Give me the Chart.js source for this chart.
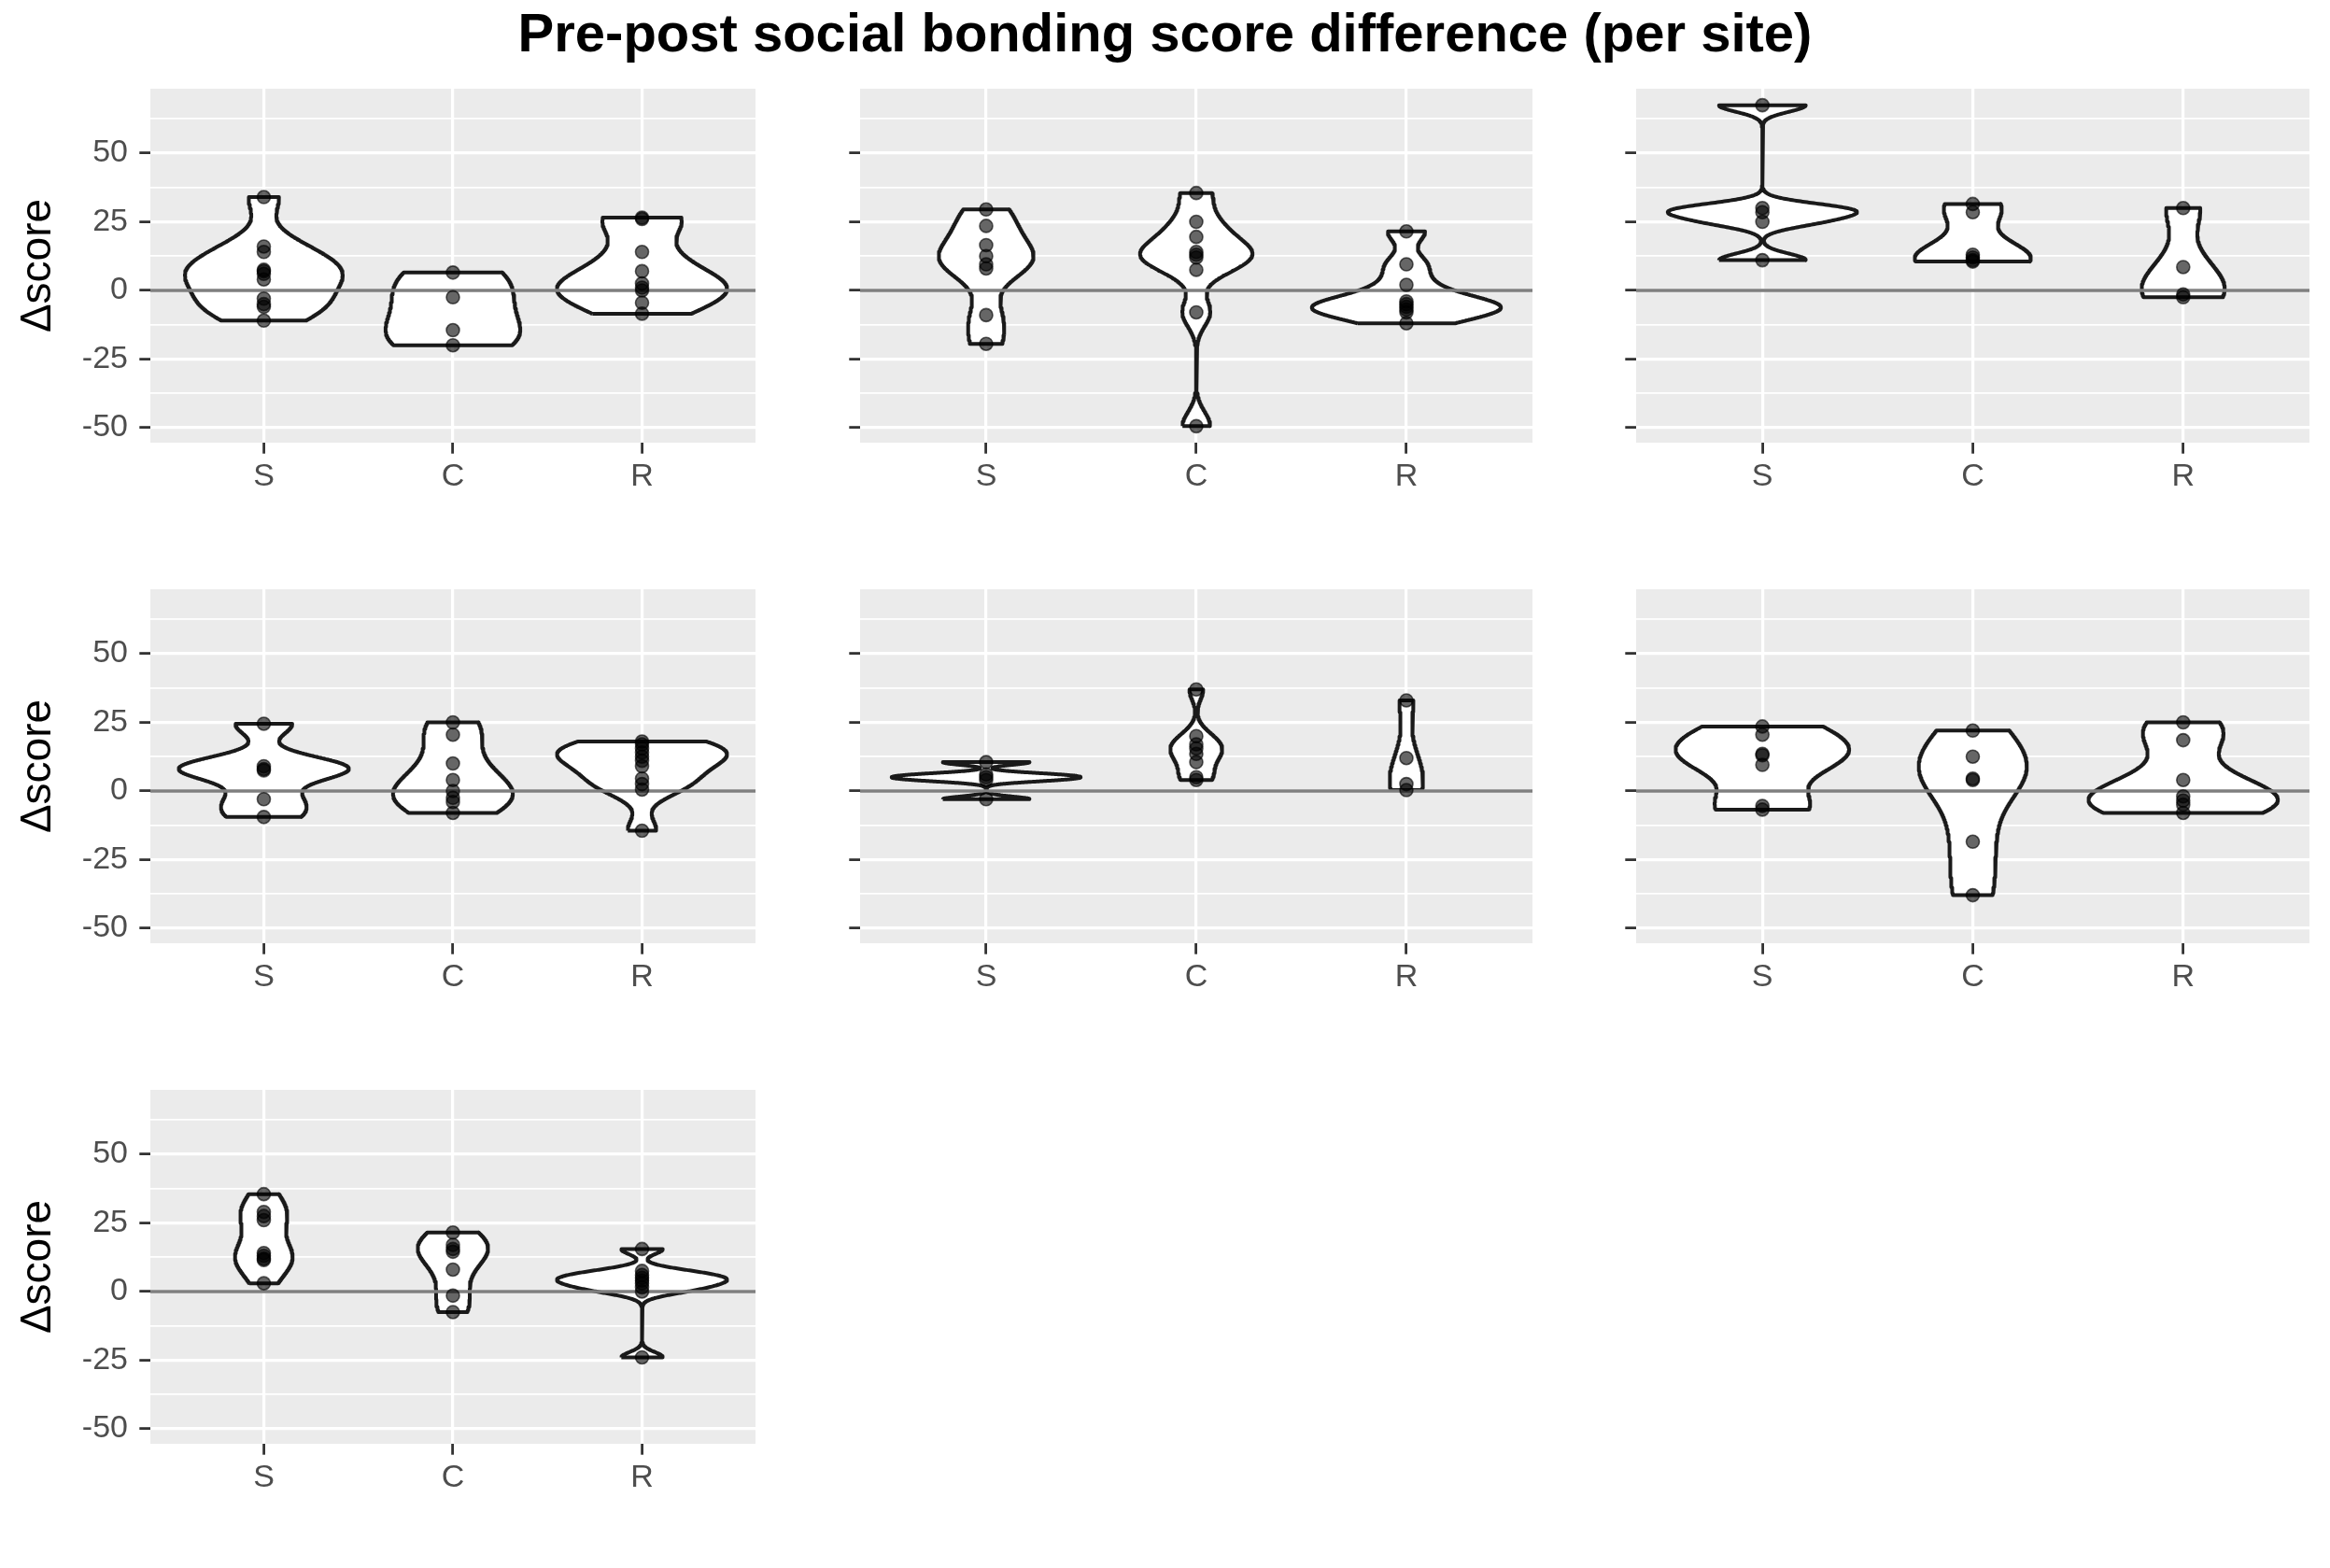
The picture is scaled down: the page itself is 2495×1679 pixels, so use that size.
<!DOCTYPE html>
<html><head><meta charset="utf-8">
<script src="https://cdn.jsdelivr.net/npm/chart.js@4.4.0/dist/chart.umd.min.js"></script>
<style>
html,body{margin:0;padding:0;background:#fff;width:2495px;height:1679px;overflow:hidden;font-family:"Liberation Sans",Arial,sans-serif;}
#title{position:absolute;left:0;width:2495px;top:6px;text-align:center;font-weight:bold;font-size:58px;line-height:58px;color:#000;white-space:nowrap;}
canvas{position:absolute;}
</style></head><body>
<div id="title">Pre-post social bonding score difference (per site)</div>
<script>
// ---- data ----
const categories = ['S', 'C', 'R'];
const yTickValues = [-50, -25, 0, 25, 50];
const yMinorValues = [-37.5, -12.5, 12.5, 37.5, 62.5];
const yTitle = 'Δscore';

const site1S = [34, 16, 14, 7.5, 7, 6, 4, -3, -5, -6, -11];
const site1C = [6.5, -2.5, -14.5, -20];
const site1R = [26.5, 26, 14, 7, 2.5, 1, 0, -4.5, -8.5];

const site2S = [29.5, 23.5, 16.5, 12.5, 9.5, 8, -9, -19.5];
const site2C = [35.5, 25, 19.5, 14, 13, 12, 7.5, -8, -49.5];
const site2R = [21.5, 9.5, 2, -4, -5, -6, -7, -8, -12];

const site3S = [67.5, 30, 28.5, 25, 11];
const site3C = [31.5, 28.5, 13, 12, 11, 10.5];
const site3R = [30, 8.5, -1.5, -2.5];

const site4S = [24.5, 9, 8, 7.5, -3, -9.5];
const site4C = [25, 20.5, 10, 4, 0, -2.5, -4, -8];
const site4R = [18, 17, 15.5, 14, 12.5, 11, 9, 4.5, 2.5, 0.5, -14.5];

const site5S = [10.5, 6, 5, 4, -3];
const site5C = [37, 20, 17, 15.5, 13.5, 10.5, 5, 4];
const site5R = [33, 12, 2.5, 0.3];

const site6S = [23.5, 20.5, 13.5, 13, 9.5, -5.5, -6.8];
const site6C = [22, 12.5, 4.5, 4, -18.5, -38];
const site6R = [25, 18.5, 4, -2, -3.5, -5, -8];

const site7S = [35.5, 29, 27.5, 26, 14, 13, 12, 11.5, 3];
const site7C = [21.5, 17, 15.5, 14.5, 8, -1.5, -7.5];
const site7R = [15.5, 7.5, 6, 5, 4, 3, 1.5, 0, -24];

const sites = [
  [site1S, site1C, site1R], [site2S, site2C, site2R], [site3S, site3C, site3R],
  [site4S, site4C, site4R], [site5S, site5C, site5R], [site6S, site6C, site6R],
  [site7S, site7C, site7R]
];

// ---- layout ----
const colLeft = [161, 921, 1752];
const colRight = [809, 1641, 2473];
const rowTop = [95, 631, 1167];
const panelH = 379;
const xAxisH = 72;
const FONT = '"Liberation Sans", Arial, sans-serif';
Chart.defaults.font.family = FONT;

// ---- violin density (Gaussian KDE, nrd0 bandwidth, trimmed) ----
function q7(s, p) { const h = (s.length - 1) * p; const lo = Math.floor(h); const hi = Math.min(lo + 1, s.length - 1); return s[lo] + (h - lo) * (s[hi] - s[lo]); }
function bwNrd0(x) {
  const n = x.length; const m = x.reduce((a, b) => a + b, 0) / n;
  const sd = Math.sqrt(x.reduce((a, b) => a + (b - m) * (b - m), 0) / (n - 1));
  const s = [...x].sort((a, b) => a - b);
  const iqr = q7(s, 0.75) - q7(s, 0.25);
  let lo = Math.min(sd, iqr / 1.34);
  if (!(lo > 0)) lo = sd || Math.abs(s[0]) || 1;
  return 0.9 * lo * Math.pow(n, -0.2);
}
function kde(x) {
  const bw = bwNrd0(x); const mn = Math.min(...x), mx = Math.max(...x); const N = 512; const out = [];
  for (let i = 0; i < N; i++) {
    const y = mn + (mx - mn) * i / (N - 1); let s = 0;
    for (const v of x) { const u = (y - v) / bw; s += Math.exp(-0.5 * u * u); }
    out.push({ y, d: s / (x.length * bw * Math.sqrt(2 * Math.PI)) });
  }
  return out;
}

const panelBg = {
  id: 'panelBg',
  beforeDraw(chart) {
    const { ctx, chartArea: a } = chart;
    ctx.save(); ctx.fillStyle = '#EBEBEB';
    ctx.fillRect(a.left, a.top, a.right - a.left, a.bottom - a.top);
    ctx.restore();
  }
};

function makeChart(idx) {
  const r = Math.floor(idx / 3), c = idx % 3;
  const yW = c === 0 ? 161 : 12;
  const W = yW + (colRight[c] - colLeft[c]);
  const H = panelH + xAxisH;
  const canvas = document.createElement('canvas');
  canvas.width = W; canvas.height = H;
  canvas.style.left = (colLeft[c] - yW) + 'px'; canvas.style.top = rowTop[r] + 'px';
  canvas.style.width = W + 'px'; canvas.style.height = H + 'px';
  document.body.appendChild(canvas);

  const groups = sites[idx];
  const dens = groups.map(g => kde(g));
  const maxD = Math.max(...dens.map(d => Math.max(...d.map(p => p.d))));
  const datasets = [];
  groups.forEach((g, k) => {
    datasets.push({
      type: 'scatter', data: g.map(v => ({ x: k + 1, y: v })),
      pointRadius: 7, pointBackgroundColor: 'rgba(0,0,0,0.6)', pointBorderColor: 'rgba(0,0,0,0.62)',
      pointBorderWidth: 1.6, order: 0
    });
  });
  datasets.push({
    type: 'line', data: [{ x: 0.4, y: 0 }, { x: 3.6, y: 0 }], borderColor: '#7f7f7f', borderWidth: 3.4,
    pointRadius: 0, fill: false, order: 1
  });
  dens.forEach((d, k) => {
    const left = d.map(p => ({ x: k + 1 - 0.45 * p.d / maxD, y: p.y }));
    const right = d.slice().reverse().map(p => ({ x: k + 1 + 0.45 * p.d / maxD, y: p.y }));
    const poly = left.concat(right); poly.push(poly[0]);
    datasets.push({
      type: 'line', data: poly, borderColor: '#1a1a1a', borderWidth: 4, backgroundColor: '#ffffff',
      fill: 'shape', pointRadius: 0, tension: 0, order: 2, borderJoinStyle: 'round'
    });
  });

  const yAll = yTickValues.concat(yMinorValues).sort((a, b) => a - b);
  new Chart(canvas, {
    type: 'scatter',
    data: { datasets },
    plugins: [panelBg],
    options: {
      responsive: false, animation: false, devicePixelRatio: 1,
      layout: { padding: 0, autoPadding: false },
      plugins: { legend: { display: false }, tooltip: { enabled: false } },
      scales: {
        x: {
          type: 'linear', min: 0.4, max: 3.6,
          afterBuildTicks: s => { s.ticks = [1, 2, 3].map(v => ({ value: v })); },
          ticks: { callback: v => categories[Math.round(v) - 1], font: { size: 34 }, color: '#4D4D4D', padding: 4.5, maxRotation: 0, autoSkip: false },
          grid: { color: '#ffffff', lineWidth: 3.2, drawTicks: true, tickLength: 11.7, tickColor: '#333333', tickWidth: 2.8 },
          border: { display: false },
          afterFit: s => { s.height = xAxisH; s.paddingLeft = 0; s.paddingRight = 0; }
        },
        y: {
          type: 'linear', min: -55.5, max: 73.5,
          afterBuildTicks: s => { s.ticks = yAll.map(v => ({ value: v })); },
          ticks: {
            callback: v => (c === 0 && yTickValues.includes(v)) ? String(v) : '',
            font: { size: 34 }, color: '#4D4D4D', padding: 12.3, autoSkip: false
          },
          grid: {
            color: '#ffffff',
            lineWidth: ctx => yTickValues.includes(ctx.tick.value) ? 3.2 : 1.7,
            drawTicks: true, tickLength: 11.7, tickWidth: 2.8,
            tickColor: ctx => yTickValues.includes(ctx.tick.value) ? '#333333' : 'rgba(0,0,0,0)'
          },
          border: { display: false },
          title: { display: c === 0, text: yTitle, font: { size: 46, lineHeight: 1.2 }, color: '#000000', padding: { top: 14, bottom: 0 } },
          afterFit: s => { s.width = yW; s.paddingTop = 0; s.paddingBottom = 0; }
        }
      }
    }
  });
}

sites.forEach((_, i) => makeChart(i));
</script>
</body></html>
